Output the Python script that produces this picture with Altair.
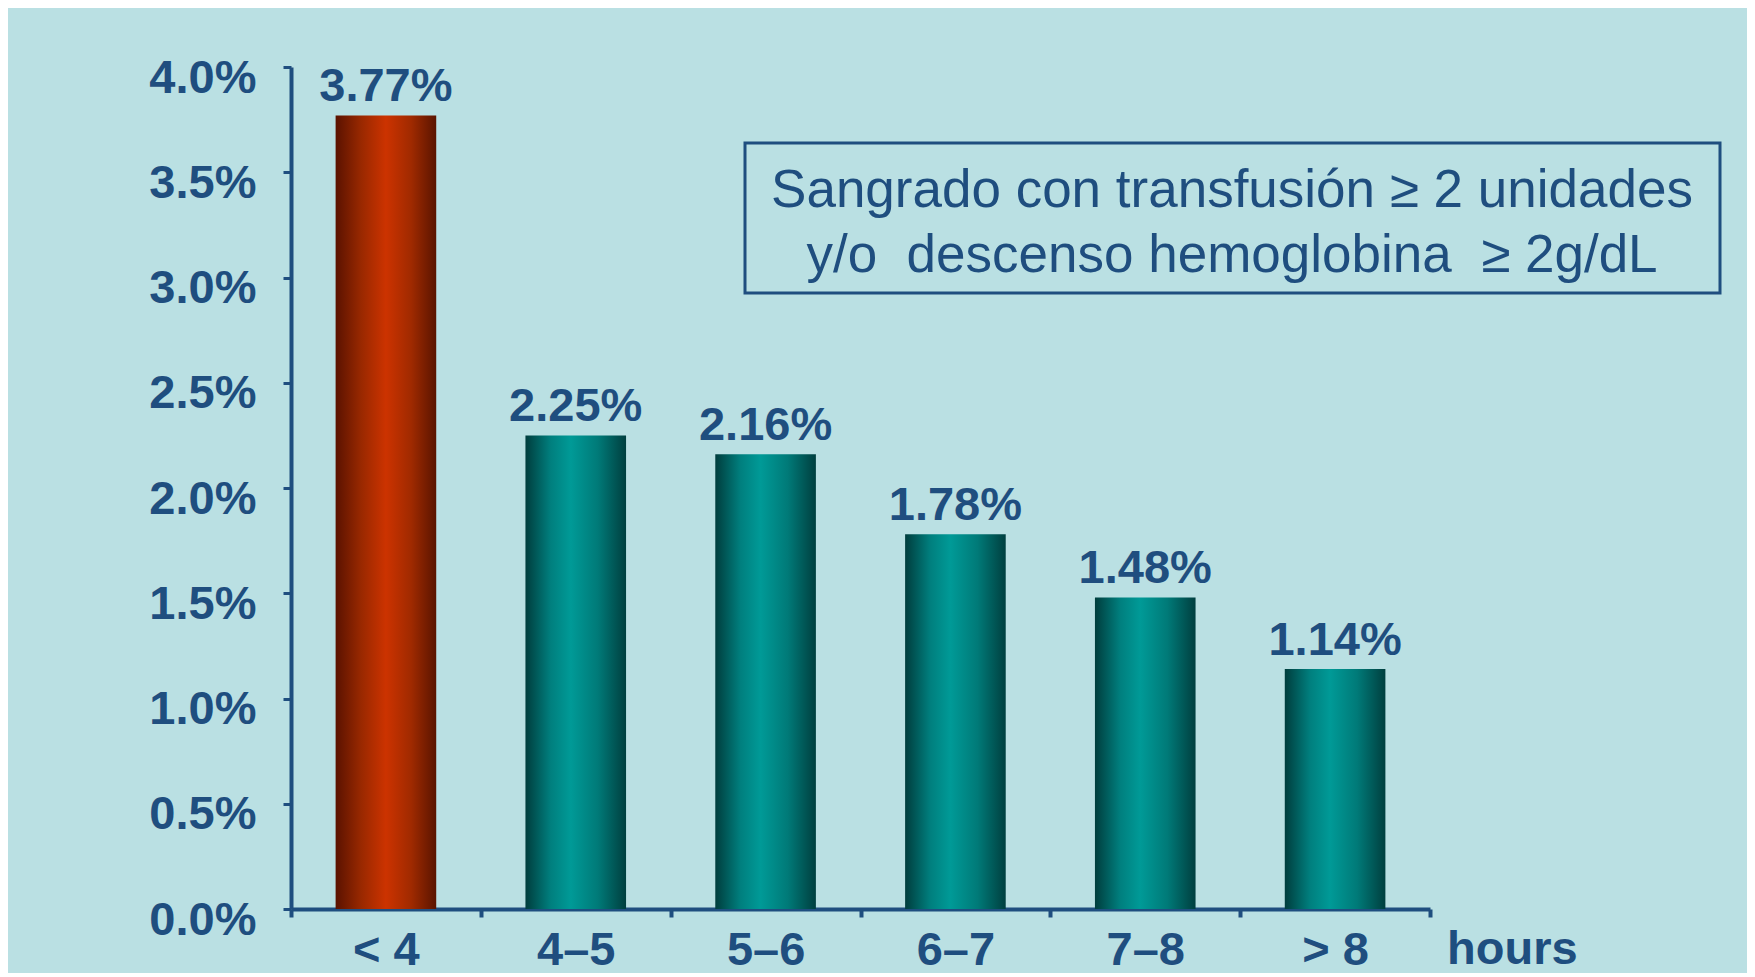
import altair as alt
import pandas as pd

categories = ["< 4", "4–5", "5–6", "6–7", "7–8", "> 8"]
values = [3.77, 2.25, 2.16, 1.78, 1.48, 1.14]
y_ticks = [0, 0.5, 1.0, 1.5, 2.0, 2.5, 3.0, 3.5, 4.0]
box_lines = ["Sangrado con transfusión ≥ 2 unidades", "y/o\u00a0 descenso hemoglobina\u00a0 ≥ 2g/dL"]
x_unit = "hours"

FONT = "Liberation Sans, Arial, sans-serif"
BLUE = "#1F4E7F"
BG = "#BAE0E3"

df = pd.DataFrame({"cat": categories, "val": values})
dummy = pd.DataFrame({"a": [0]})

red_grad = alt.LinearGradient(
    gradient="linear", x1=0, x2=1, y1=0, y2=0,
    stops=[
        alt.GradientStop(color="#5A1200", offset=0),
        alt.GradientStop(color="#982800", offset=0.25),
        alt.GradientStop(color="#CC3300", offset=0.5),
        alt.GradientStop(color="#A02A00", offset=0.75),
        alt.GradientStop(color="#5A1400", offset=1),
    ],
)
teal_grad = alt.LinearGradient(
    gradient="linear", x1=0, x2=1, y1=0, y2=0,
    stops=[
        alt.GradientStop(color="#003D3D", offset=0),
        alt.GradientStop(color="#007F7E", offset=0.25),
        alt.GradientStop(color="#009A97", offset=0.45),
        alt.GradientStop(color="#007A78", offset=0.72),
        alt.GradientStop(color="#003F3F", offset=1),
    ],
)

x_enc = alt.X(
    "cat:N", sort=categories,
    scale=alt.Scale(paddingInner=0, paddingOuter=0),
    axis=alt.Axis(
        title=None, labelAngle=0, tickBand="extent",
        domainColor=BLUE, domainWidth=4, tickColor=BLUE, tickWidth=4, tickSize=8,
        labelFont=FONT, labelFontSize=47, labelFontWeight="bold", labelColor=BLUE,
        labelPadding=10, grid=False,
    ),
)
y_enc = alt.Y(
    "val:Q",
    scale=alt.Scale(domain=[0, 4], nice=False, zero=True),
    axis=alt.Axis(
        title=None, values=y_ticks, grid=False,
        labelExpr="format(datum.value, '.1f') + '%'",
        domainColor=BLUE, domainWidth=4, tickColor=BLUE, tickWidth=3, tickSize=8,
        labelFont=FONT, labelFontSize=47, labelFontWeight="bold", labelColor=BLUE,
        labelPadding=27, labelOffset=11,
    ),
)

bar_w = alt.RelativeBandSize(0.53)
base = alt.Chart(df)
red_bars = base.transform_filter(alt.datum.cat == categories[0]).mark_bar(
    color=red_grad, width=bar_w).encode(x=x_enc, y=y_enc)
teal_bars = base.transform_filter(alt.datum.cat != categories[0]).mark_bar(
    color=teal_grad, width=bar_w).encode(x=x_enc, y=y_enc)
labels = base.mark_text(
    dy=-14, baseline="alphabetic", font=FONT, fontSize=47, fontWeight="bold", color=BLUE
).encode(x=x_enc, y=y_enc, text=alt.Text("label:N")).transform_calculate(
    label="format(datum.val, '.2f') + '%'"
)

hours = alt.Chart(dummy).mark_text(
    text=x_unit, align="left", baseline="alphabetic", font=FONT, fontSize=47,
    fontWeight="bold", color=BLUE
).encode(x=alt.value(1156), y=alt.value(897))

box = alt.Chart(dummy).mark_rect(
    fill="transparent", stroke=BLUE, strokeWidth=3
).encode(x=alt.value(454), x2=alt.value(1429), y=alt.value(76), y2=alt.value(226))

box_text = alt.Chart(dummy).mark_text(
    text=box_lines, align="center", baseline="alphabetic", lineHeight=65,
    font=FONT, fontSize=53, color=BLUE
).encode(x=alt.value(941), y=alt.value(140))

chart = alt.layer(red_bars, teal_bars, labels, hours, box, box_text).properties(
    width=1139, height=842,
    background=BG,
    padding={"left": 283, "top": 59, "right": 317, "bottom": 64},
    autosize=alt.AutoSizeParams(type="none"),
).configure_view(stroke=None)

chart.save("out.html", embed_options={"renderer": "svg", "actions": False})
